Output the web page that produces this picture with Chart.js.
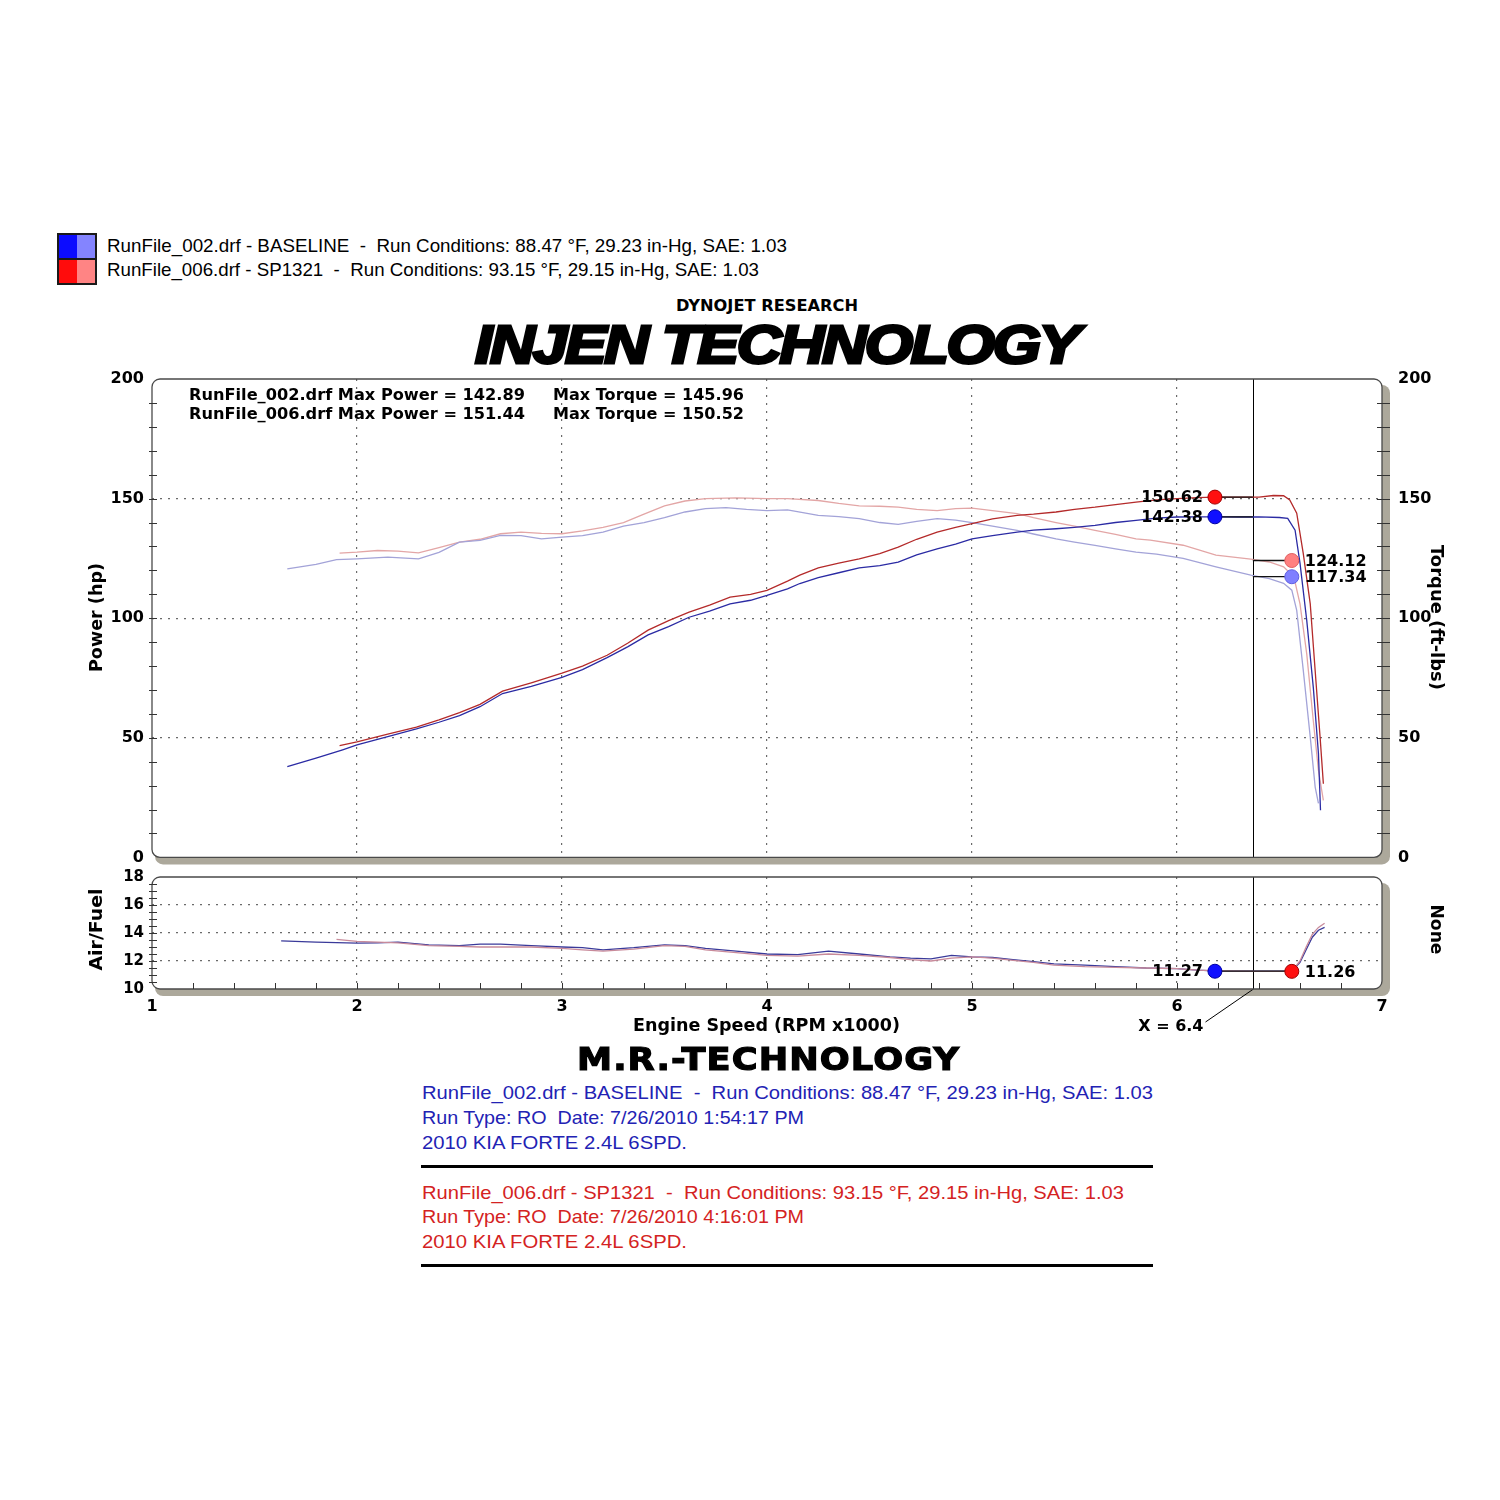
<!DOCTYPE html>
<html><head><meta charset="utf-8">
<script src="https://cdn.jsdelivr.net/npm/chart.js@4.4.1/dist/chart.umd.min.js"></script>
<style>
html,body{margin:0;padding:0;background:#fff;}
#page{position:relative;width:1500px;height:1500px;overflow:hidden;background:#fff;}
.t{position:absolute;white-space:nowrap;line-height:1;transform-origin:0 0;}
.dv{font-family:'DejaVu Sans';font-weight:bold;}
.ls{font-family:'Liberation Sans';}
.rot{position:absolute;white-space:nowrap;line-height:1;font-family:'DejaVu Sans';font-weight:bold;font-size:17px;transform-origin:50% 50%;}
canvas{position:absolute;left:0;}
.sq{position:absolute;left:57px;width:36px;height:23px;border:2px solid #1a1a1a;}
.rule{position:absolute;left:421px;width:732px;height:3px;background:#000;}
.blue{color:#2222b4;}
.red{color:#d42222;}
</style></head>
<body><div id="page">
<div class="sq" style="top:233px;background:linear-gradient(90deg,#0c0cff 50%,#8484ff 50%);"></div>
<div class="sq" style="top:258px;background:linear-gradient(90deg,#ff0c0c 50%,#ff8484 50%);"></div>
<div class="t ls" style="left:107px;top:235.8px;font-size:19px;" data-w="680">RunFile_002.drf - BASELINE&nbsp; -&nbsp; Run Conditions: 88.47 °F, 29.23 in-Hg, SAE: 1.03</div>
<div class="t ls" style="left:107px;top:260.3px;font-size:19px;" data-w="652">RunFile_006.drf - SP1321&nbsp; -&nbsp; Run Conditions: 93.15 °F, 29.15 in-Hg, SAE: 1.03</div>
<div class="t dv" style="left:676px;top:298.5px;font-size:15px;" data-w="182">DYNOJET RESEARCH</div>
<div class="t" style="left:475px;top:317px;font-family:'Liberation Sans';font-weight:bold;font-size:54px;font-style:italic;-webkit-text-stroke:3px #000;letter-spacing:-2px;" data-w="603">INJEN TECHNOLOGY</div>

<canvas id="c1" width="1500" height="515" style="top:360px;"></canvas>
<canvas id="c2" width="1500" height="182" style="top:860px;"></canvas>

<div class="t dv" style="left:189px;top:387.5px;font-size:15.5px;" data-w="336">RunFile_002.drf Max Power = 142.89</div>
<div class="t dv" style="left:553px;top:387.5px;font-size:15.5px;" data-w="191">Max Torque = 145.96</div>
<div class="t dv" style="left:189px;top:406.5px;font-size:15.5px;" data-w="336">RunFile_006.drf Max Power = 151.44</div>
<div class="t dv" style="left:553px;top:406.5px;font-size:15.5px;" data-w="191">Max Torque = 150.52</div>

<div class="rot" data-cx="97" data-cy="617" data-len="109" data-rot="-90">Power (hp)</div>
<div class="rot" data-cx="1437" data-cy="617" data-len="145" data-rot="90">Torque (ft-lbs)</div>
<div class="rot" data-cx="97" data-cy="929" data-len="82" data-rot="-90">Air/Fuel</div>
<div class="rot" data-cx="1437" data-cy="929" data-len="50" data-rot="90">None</div>

<div class="t dv" style="left:633px;top:1017px;font-size:17px;" data-w="267">Engine Speed (RPM x1000)</div>
<div class="t dv" style="left:577px;top:1043px;font-size:32px;-webkit-text-stroke:1.2px #000;letter-spacing:1px;" data-w="383">M.R.-TECHNOLOGY</div>

<div class="t ls blue" style="left:422px;top:1084.3px;font-size:18.5px;" data-w="731">RunFile_002.drf - BASELINE&nbsp; -&nbsp; Run Conditions: 88.47 °F, 29.23 in-Hg, SAE: 1.03</div>
<div class="t ls blue" style="left:422px;top:1109.3px;font-size:18.5px;" data-w="382">Run Type: RO&nbsp; Date: 7/26/2010 1:54:17 PM</div>
<div class="t ls blue" style="left:422px;top:1134.3px;font-size:18.5px;" data-w="265">2010 KIA FORTE 2.4L 6SPD.</div>
<div class="rule" style="top:1165px;"></div>
<div class="t ls red" style="left:422px;top:1184.3px;font-size:18.5px;" data-w="702">RunFile_006.drf - SP1321&nbsp; -&nbsp; Run Conditions: 93.15 °F, 29.15 in-Hg, SAE: 1.03</div>
<div class="t ls red" style="left:422px;top:1208.3px;font-size:18.5px;" data-w="382">Run Type: RO&nbsp; Date: 7/26/2010 4:16:01 PM</div>
<div class="t ls red" style="left:422px;top:1233.3px;font-size:18.5px;" data-w="265">2010 KIA FORTE 2.4L 6SPD.</div>
<div class="rule" style="top:1264px;"></div>
</div>
<script>
// ---------- DATA ----------
const rpmPowBase = [1.66,1.8,1.93,2.0,2.15,2.29,2.4,2.5,2.6,2.71,2.85,3.0,3.1,3.22,3.32,3.42,3.52,3.62,3.72,3.82,3.92,4.0,4.1,4.16,4.25,4.35,4.45,4.55,4.64,4.73,4.83,4.92,5.0,5.1,5.22,5.3,5.41,5.5,5.6,5.7,5.8,5.9,6.0,6.1,6.18,6.3,6.4,6.5,6.54,6.576,6.6,6.633,6.665,6.69,6.70];
const powBase    = [38,41.5,45,47,50.5,53.7,56.5,59.3,63,68.5,71.5,75.3,78.5,83.5,88,93,96.5,100.4,103,106,107.5,109.5,112.3,114.5,117,119,121,122,123.4,126.5,129,131,133.2,134.5,136,136.8,137.4,138,138.8,140,140.9,141.8,142.3,142.4,142.4,142.3,142.4,142.1,141.7,136.8,123,99,71,43.4,19.7];
const rpmPowSP   = [1.915,2.0,2.15,2.29,2.4,2.5,2.6,2.71,2.85,3.0,3.1,3.22,3.32,3.42,3.52,3.62,3.72,3.82,3.92,4.0,4.1,4.16,4.25,4.35,4.45,4.55,4.64,4.73,4.83,4.92,5.0,5.1,5.22,5.3,5.41,5.5,5.6,5.7,5.8,5.9,6.0,6.1,6.18,6.3,6.4,6.47,6.52,6.55,6.584,6.616,6.65,6.674,6.698,6.714];
const powSP      = [46.7,48.3,51.5,54.5,57.5,60.5,64,69.5,73,77,80,84.5,89.5,95,99,102.5,105.5,108.8,110,111.6,115.5,118,121,123,124.8,127,129.7,133,136,138,139.5,141.5,143,143.5,144.4,145.5,146.4,147.5,148.5,149.5,150,150.4,150.6,150.6,150.6,151.3,151.2,149.4,143.9,127,106,78,50.3,30.8];
const rpmTqBase  = [1.66,1.8,1.9,2.0,2.15,2.3,2.4,2.5,2.6,2.7,2.8,2.9,3.0,3.1,3.2,3.3,3.4,3.5,3.6,3.7,3.8,3.9,4.0,4.1,4.25,4.35,4.45,4.55,4.64,4.73,4.83,4.92,5.0,5.1,5.22,5.3,5.41,5.5,5.6,5.7,5.8,5.9,6.03,6.19,6.36,6.45,6.52,6.56,6.584,6.616,6.65,6.674,6.69];
const tqBase     = [120.6,122.5,124.5,124.8,125.5,124.8,127.5,131.8,132.5,134.6,134.5,133.2,133.9,134.5,136,138.5,140,142,144.4,145.8,146.2,145.5,145,145.3,143,142.5,141.6,140,139.2,140.5,141.6,141,140,138.5,136.7,135.2,133.2,131.8,130.4,129,127.6,126.8,125,121.5,118,116.5,114.6,111.7,103.3,78.2,50.3,29.4,22.6];
const rpmTqSP    = [1.915,2.0,2.1,2.2,2.3,2.4,2.5,2.6,2.7,2.8,2.9,3.0,3.1,3.2,3.3,3.4,3.5,3.6,3.7,3.85,4.0,4.1,4.25,4.35,4.45,4.55,4.64,4.73,4.83,4.92,5.0,5.1,5.22,5.3,5.41,5.5,5.6,5.7,5.8,5.87,6.03,6.19,6.36,6.45,6.52,6.57,6.6,6.633,6.665,6.69,6.714];
const tqSP       = [127.2,127.6,128.3,128,127.3,129.5,131.8,133,135.3,136,135.5,135.3,136.5,138,140,143.5,147,149,150,150.3,150,150,149.2,148,147,146.8,146.4,145.5,145,145.8,146,145,143.7,142,140,138.5,136.7,135,133.2,132.6,130.5,126.4,124.7,123.5,121.5,117.3,106,85,57,36.4,23.8];
const rpmAfBase  = [1.63,1.8,2.0,2.1,2.2,2.35,2.5,2.6,2.7,2.85,3.0,3.1,3.2,3.35,3.5,3.6,3.7,3.85,4.0,4.15,4.3,4.45,4.6,4.7,4.8,4.9,5.0,5.1,5.2,5.3,5.4,5.55,5.7,5.85,6.0,6.1,6.18,6.3,6.4,6.5,6.56,6.6,6.63,6.66,6.69,6.72];
const afBase     = [13.44,13.35,13.28,13.3,13.35,13.15,13.1,13.2,13.2,13.1,13.0,12.95,12.8,12.95,13.15,13.1,12.9,12.7,12.5,12.45,12.7,12.5,12.3,12.2,12.15,12.4,12.3,12.25,12.1,11.95,11.8,11.7,11.6,11.5,11.45,11.35,11.3,11.28,11.27,11.27,11.27,11.9,12.8,13.7,14.2,14.4];
const rpmAfSP    = [1.9,2.0,2.1,2.2,2.35,2.5,2.6,2.7,2.85,3.0,3.1,3.2,3.35,3.5,3.6,3.7,3.85,4.0,4.15,4.3,4.45,4.6,4.7,4.8,4.9,5.0,5.1,5.2,5.3,5.4,5.55,5.7,5.85,6.0,6.1,6.2,6.3,6.4,6.5,6.56,6.6,6.63,6.66,6.69,6.72];
const afSP       = [13.55,13.4,13.35,13.3,13.1,13.05,13.0,13.0,13.0,12.9,12.8,12.7,12.85,13.1,13.05,12.8,12.6,12.4,12.35,12.5,12.4,12.25,12.1,12.0,12.2,12.3,12.2,12.05,11.9,11.7,11.6,11.55,11.5,11.45,11.35,11.3,11.27,11.26,11.26,11.26,12.0,13.0,13.9,14.4,14.7];

const cursorRpm = 6.37;
const markerLeftRpm = 6.185;
const markerRightRpm = 6.56;
const cursorPow = [142.38, 150.62];   // baseline, SP
const cursorTq  = [117.34, 124.12];   // baseline, SP
const cursorAf  = [11.27, 11.26];     // baseline, SP
const powerTickLabels = [0,50,100,150,200];
const afTickLabels = [10,12,14,16,18];
const rpmTickLabels = [1,2,3,4,5,6,7];

// ---------- HELPERS ----------
const pts = (xs, ys) => xs.map((x,i) => ({x, y: ys[i]}));
const COL = {base:'#2b2ba4', sp:'#b42a2a', tqBase:'#a3a3d8', tqSP:'#e3a6a6'};
const curve = (xs, ys, color, order) => ({data: pts(xs,ys), borderColor: color, borderWidth: 1.3, pointRadius: 0, order: order||3, tension: 0});
const leader = (x1, x2, y) => ({data: [{x:x1,y},{x:x2,y}], borderColor:'#111', borderWidth:1.3, pointRadius:0, order:2});
const marker = (x, y, fill, edge) => ({data: [{x,y}], showLine:false, pointRadius:7, pointBackgroundColor: fill, pointBorderColor: edge, pointBorderWidth:1, order:1});
const FONT = {family:'DejaVu Sans', weight:'bold', size:16};

function rr(ctx,x,y,w,h,r){ctx.beginPath();ctx.moveTo(x+r,y);ctx.arcTo(x+w,y,x+w,y+h,r);ctx.arcTo(x+w,y+h,x,y+h,r);ctx.arcTo(x,y+h,x,y,r);ctx.arcTo(x,y,x+w,y,r);ctx.closePath();}

const framePlugin = {
  id:'frame',
  beforeDraw(chart){
    const {ctx, chartArea:a} = chart; ctx.save();
    ctx.fillStyle = '#aca89b'; rr(ctx, a.left+3, a.top+6, a.width+5, a.height+1, 8); ctx.fill();
    ctx.fillStyle = '#fff'; rr(ctx, a.left, a.top, a.width, a.height, 8); ctx.fill();
    ctx.restore();
  },
  afterDraw(chart){
    const {ctx, chartArea:a} = chart; ctx.save();
    ctx.strokeStyle = '#4a4a4a'; ctx.lineWidth = 1.3; rr(ctx, a.left, a.top, a.width, a.height, 8); ctx.stroke();
    const o = chart.options.plugins.minor || {};
    ctx.strokeStyle = '#333'; ctx.lineWidth = 1;
    if (o.yStep) {
      const s = chart.scales.y, n = Math.round((s.max - s.min)/o.yStep);
      for (let i=1;i<n;i++){ const p = Math.round(s.getPixelForValue(s.min + i*o.yStep))+0.5;
        ctx.beginPath(); ctx.moveTo(a.left-3,p); ctx.lineTo(a.left+5,p);
        if (o.right){ ctx.moveTo(a.right-5,p); ctx.lineTo(a.right+8,p);} ctx.stroke(); }
    }
    if (o.xStep) {
      const s = chart.scales.x, n = Math.round((s.max - s.min)/o.xStep);
      for (let i=1;i<n;i++){ const p = Math.round(s.getPixelForValue(s.min + i*o.xStep))+0.5;
        ctx.beginPath(); ctx.moveTo(p,a.bottom); ctx.lineTo(p,a.bottom-6); ctx.stroke(); }
    }
    ctx.restore();
  },
  beforeDatasetsDraw(chart){
    const {ctx, chartArea:a} = chart; const px = Math.round(chart.scales.x.getPixelForValue(cursorRpm))+0.5;
    ctx.save(); ctx.strokeStyle = '#000'; ctx.lineWidth = 1;
    ctx.beginPath(); ctx.moveTo(px, a.top); ctx.lineTo(px, a.bottom); ctx.stroke();
    const o = chart.options.plugins.minor || {};
    if (o.cursorLabel) {
      ctx.beginPath(); ctx.moveTo(px, a.bottom); ctx.lineTo(px-48, a.bottom+33); ctx.stroke();
      ctx.fillStyle = '#000'; ctx.font = 'bold 16px "DejaVu Sans"'; ctx.textAlign = 'right'; ctx.textBaseline = 'middle';
      ctx.fillText('X = ' + cursorRpm.toFixed(1), px-50, a.bottom+38);
    }
    ctx.restore();
  },
  afterDatasetsDraw(chart){
    const o = chart.options.plugins.minor || {}; if (!o.labels) return;
    const {ctx} = chart; const sx = chart.scales.x, sy = chart.scales.y;
    ctx.save(); ctx.fillStyle = '#000'; ctx.font = 'bold ' + (o.labelSize||16) + 'px "DejaVu Sans"'; ctx.textBaseline = 'middle';
    o.labels.forEach(l => {
      const px = sx.getPixelForValue(l.x), py = sy.getPixelForValue(l.y);
      ctx.textAlign = l.left ? 'right' : 'left';
      ctx.fillText(l.y.toFixed(2), l.left ? px-12 : px+13, py+1);
    });
    ctx.restore();
  }
};

const gridAt = (vals) => (c) => (c.tick && vals.includes(c.tick.value)) ? '#6a6a6a' : 'rgba(0,0,0,0)';

// ---------- TOP CHART ----------
new Chart(document.getElementById('c1'), {
  type:'line',
  data:{datasets:[
    curve(rpmTqBase, tqBase, COL.tqBase, 4),
    curve(rpmTqSP, tqSP, COL.tqSP, 4),
    curve(rpmPowBase, powBase, COL.base, 3),
    curve(rpmPowSP, powSP, COL.sp, 3),
    leader(markerLeftRpm, cursorRpm, cursorPow[1]),
    leader(markerLeftRpm, cursorRpm, cursorPow[0]),
    leader(cursorRpm, markerRightRpm, cursorTq[1]),
    leader(cursorRpm, markerRightRpm, cursorTq[0]),
    marker(markerLeftRpm, cursorPow[1], '#ff1010', '#a00000'),
    marker(markerLeftRpm, cursorPow[0], '#1010ff', '#0000a0'),
    marker(markerRightRpm, cursorTq[1], '#ff8080', '#e06060'),
    marker(markerRightRpm, cursorTq[0], '#8080ff', '#6060e0')
  ]},
  options:{
    responsive:false, animation:false, devicePixelRatio:1,
    layout:{padding:{top:19,left:0,right:0,bottom:0}},
    plugins:{legend:{display:false}, tooltip:{enabled:false},
      minor:{yStep:10, right:true, labels:[
        {x:markerLeftRpm, y:cursorPow[1], left:true},
        {x:markerLeftRpm, y:cursorPow[0], left:true},
        {x:markerRightRpm, y:cursorTq[1], left:false},
        {x:markerRightRpm, y:cursorTq[0], left:false}]}},
    scales:{
      x:{type:'linear', min:1, max:7, ticks:{stepSize:1, display:false},
         grid:{drawTicks:false, color:gridAt([2,3,4,5,6]), lineWidth:1.2}, border:{display:false, dash:[2,6]},
         afterFit(s){ s.height = 13; }},
      y:{position:'left', min:0, max:200, ticks:{stepSize:10, autoSkip:false, padding:8, color:'#000', font:FONT,
           callback:(v)=> powerTickLabels.includes(v) ? String(v) : ''},
         grid:{drawTicks:false, color:gridAt([50,100,150]), lineWidth:1.2}, border:{display:false, dash:[2,6]},
         afterFit(s){ s.width = 152; }},
      y2:{position:'right', min:0, max:200, ticks:{stepSize:10, autoSkip:false, padding:8, color:'#000', font:FONT,
           callback:(v)=> powerTickLabels.includes(v) ? String(v) : ''},
         grid:{display:false}, border:{display:false},
         afterFit(s){ s.width = 118; }}
    }
  },
  plugins:[framePlugin]
});

// ---------- AIR/FUEL CHART ----------
new Chart(document.getElementById('c2'), {
  type:'line',
  data:{datasets:[
    curve(rpmAfSP, afSP, '#c88a9a', 3),
    curve(rpmAfBase, afBase, '#3a3a9a', 3),
    leader(markerLeftRpm, markerRightRpm, cursorAf[0]),
    marker(markerLeftRpm, cursorAf[0], '#1010ff', '#0000a0'),
    marker(markerRightRpm, cursorAf[1], '#ff1010', '#a00000')
  ]},
  options:{
    responsive:false, animation:false, devicePixelRatio:1,
    layout:{padding:{top:15,left:0,right:118,bottom:0}},
    plugins:{legend:{display:false}, tooltip:{enabled:false},
      minor:{yStep:0.5, right:false, xStep:0.2, cursorLabel:true, labelSize:16, labels:[
        {x:markerLeftRpm, y:cursorAf[0], left:true},
        {x:markerRightRpm, y:cursorAf[1], left:false}]}},
    scales:{
      x:{type:'linear', min:1, max:7, ticks:{stepSize:1, padding:8, color:'#000', font:FONT,
           callback:(v)=> rpmTickLabels.includes(v) ? String(v) : ''},
         grid:{drawTicks:false, color:gridAt([2,3,4,5,6]), lineWidth:1.2}, border:{display:false, dash:[2,6]},
         afterFit(s){ s.height = 53; }},
      y:{position:'left', min:10, max:18, ticks:{stepSize:0.5, autoSkip:false, padding:8, color:'#000', font:{family:'DejaVu Sans', weight:'bold', size:15},
           callback:(v)=> afTickLabels.includes(v) ? String(v) : ''},
         grid:{drawTicks:false, color:gridAt([12,14,16]), lineWidth:1.2}, border:{display:false, dash:[2,6]},
         afterFit(s){ s.width = 152; }}
    }
  },
  plugins:[framePlugin]
});

// ---------- TEXT FITTING ----------
document.querySelectorAll('.t[data-w]').forEach(el => {
  const w = el.getBoundingClientRect().width;
  el.style.transform = 'scaleX(' + (parseFloat(el.dataset.w)/w) + ')';
});
document.querySelectorAll('.rot').forEach(el => {
  const r = el.getBoundingClientRect();
  el.style.left = (parseFloat(el.dataset.cx) - r.width/2) + 'px';
  el.style.top = (parseFloat(el.dataset.cy) - r.height/2) + 'px';
  el.style.transform = 'rotate(' + el.dataset.rot + 'deg) scaleX(' + (parseFloat(el.dataset.len)/r.width) + ')';
});
</script>
</body></html>
